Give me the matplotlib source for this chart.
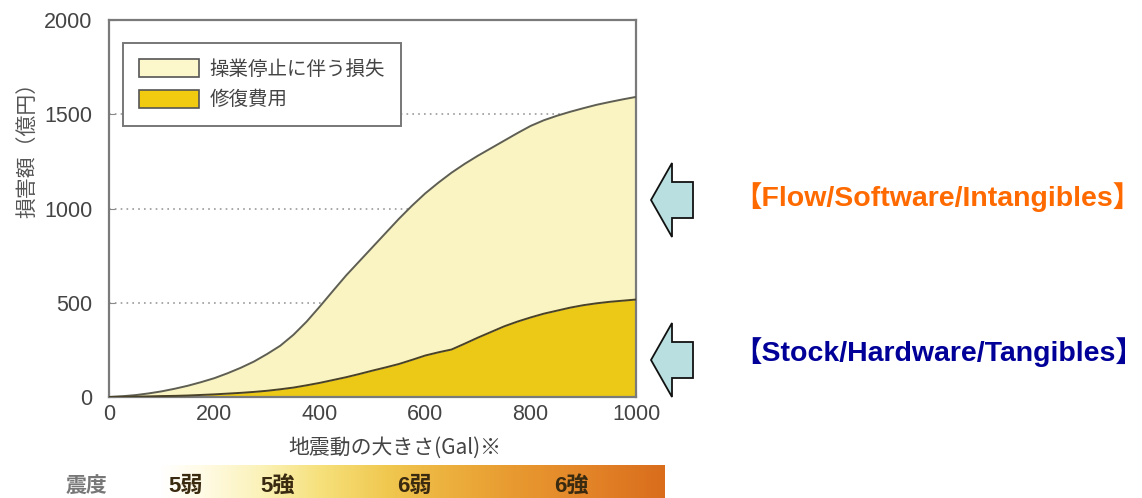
import numpy as np
import matplotlib
matplotlib.use("Agg")
import matplotlib.pyplot as plt
from matplotlib.patches import Patch, Polygon
from matplotlib.colors import LinearSegmentedColormap

# ground motion (Gal) and cumulative damage (100 million yen)
gal = list(range(0, 1001, 25))
total_loss = [0, 4, 10, 19, 30, 44, 60, 79, 100, 126, 155, 188, 228, 272,
              330, 400, 480, 563, 645, 720, 795, 870, 945, 1015, 1080, 1137,
              1190, 1237, 1280, 1320, 1360, 1400, 1438, 1468, 1492, 1513,
              1532, 1550, 1565, 1579, 1592]
repair_cost = [0, 1, 2, 3, 5, 6, 8, 11, 14, 18, 22, 27, 33, 41, 50, 62, 75,
               90, 105, 122, 140, 157, 175, 197, 220, 237, 252, 283, 315, 345,
               375, 400, 422, 442, 458, 474, 487, 497, 505, 511, 517]

series_labels = ["操業停止に伴う損失", "修復費用"]
x_ticks = [0, 200, 400, 600, 800, 1000]
y_ticks = [0, 500, 1000, 1500, 2000]
intensity_labels = ["5弱", "5強", "6弱", "6強"]
side_labels = ["【Flow/Software/Intangibles】", "【Stock/Hardware/Tangibles】"]

W, H = 1142, 498
CJK = ["Noto Sans CJK JP", "DejaVu Sans"]
NUM = ["Liberation Sans", "Noto Sans CJK JP"]
plt.rcParams["font.family"] = CJK

fig = plt.figure(figsize=(W / 100, H / 100), dpi=100)
fig.patch.set_facecolor("white")

def fx(px):
    return px / W

def fy(py):
    return 1 - py / H

# main chart
ax = fig.add_axes([fx(109), fy(397), fx(636) - fx(109), fy(20) - fy(397)])
ax.fill_between(gal, 0, repair_cost, color="#ecc917", lw=0, zorder=2)
ax.fill_between(gal, repair_cost, total_loss, color="#faf4c2", lw=0, zorder=2)
ax.plot(gal, total_loss, color="#5e5e52", lw=1.4, zorder=3)
ax.plot(gal, repair_cost, color="#4a4228", lw=1.4, zorder=3)

ax.set_xlim(0, 1000)
ax.set_ylim(0, 2000)
ax.set_xticks(x_ticks)
ax.set_yticks(y_ticks)
for v in y_ticks[1:-1]:
    ax.axhline(v, color="#9a9a9a", lw=1.2, ls=(0, (1, 2.5)), zorder=1)

ax.tick_params(axis="both", direction="in", length=4, color="#888888",
               labelcolor="#444444", labelsize=15.5)
ax.tick_params(axis="y", pad=12)
ax.tick_params(axis="x", pad=5)
for lab in ax.get_xticklabels() + ax.get_yticklabels():
    lab.set_family(NUM)
for sp in ax.spines.values():
    sp.set_color("#7a7a7a")
    sp.set_linewidth(1.6)

handles = [Patch(facecolor="#fdf8cc", edgecolor="#555555", lw=1.2),
           Patch(facecolor="#f0cb10", edgecolor="#555555", lw=1.2)]
leg = ax.legend(handles, series_labels, loc="upper left",
                bbox_to_anchor=(0.027, 0.939), borderaxespad=0,
                fontsize=14, handlelength=3.1, handleheight=1.05,
                labelspacing=0.5, borderpad=0.8, handletextpad=0.55,
                fancybox=False, framealpha=1)
leg.get_frame().set_edgecolor("#777777")
leg.get_frame().set_linewidth(1.4)
for t in leg.get_texts():
    t.set_color("#444444")

# overlay in pixel coordinates for labels, intensity bar and arrows
ov = fig.add_axes([0, 0, 1, 1])
ov.axis("off")
ov.patch.set_alpha(0)

fig.text(fx(27), fy(145), "損害額（億円）", rotation=90, ha="center",
         va="center", fontsize=15, color="#555555")
fig.text(fx(395), fy(448), "地震動の大きさ(Gal)※", ha="center", va="center",
         fontsize=15, color="#444444")

bar_cmap = LinearSegmentedColormap.from_list("shindo", [
    (0.0, "#ffffff"), (0.08, "#fffbe6"), (0.2, "#fbf2b8"), (0.32, "#f6e07a"),
    (0.45, "#f0c850"), (0.55, "#edb440"), (0.7, "#e89a30"), (0.85, "#e38428"),
    (1.0, "#d96d1c")])
ov.imshow(np.linspace(0, 1, 256)[None, :], cmap=bar_cmap, aspect="auto",
          extent=(160, 665, 498, 465), zorder=1)
ov.set_xlim(0, W)
ov.set_ylim(H, 0)

ov.text(86, 486, "震度", ha="center", va="center", fontsize=15,
        color="#777777", fontweight="bold", zorder=2)
for lab, xp in zip(intensity_labels, [186, 278, 414, 571]):
    ov.text(xp, 486, lab, ha="center", va="center", fontsize=16,
            color="#3a2a10", fontweight="bold", family=NUM, zorder=2)

# left-pointing block arrows
for yc in (200, 360):
    pts = [(651, yc), (672, yc - 37), (672, yc - 18), (693, yc - 18),
           (693, yc + 18), (672, yc + 18), (672, yc + 37)]
    ov.add_patch(Polygon(pts, closed=True, facecolor="#b9dfe1",
                         edgecolor="#111111", lw=1.3, zorder=2))

for lab, yc, col in zip(side_labels, (197, 352), ("#ff6a00", "#000099")):
    ov.text(733, yc, lab, ha="left", va="center", fontsize=20.5,
            fontweight="bold", color=col, family=NUM)

fig.savefig("out.png", dpi=100)
